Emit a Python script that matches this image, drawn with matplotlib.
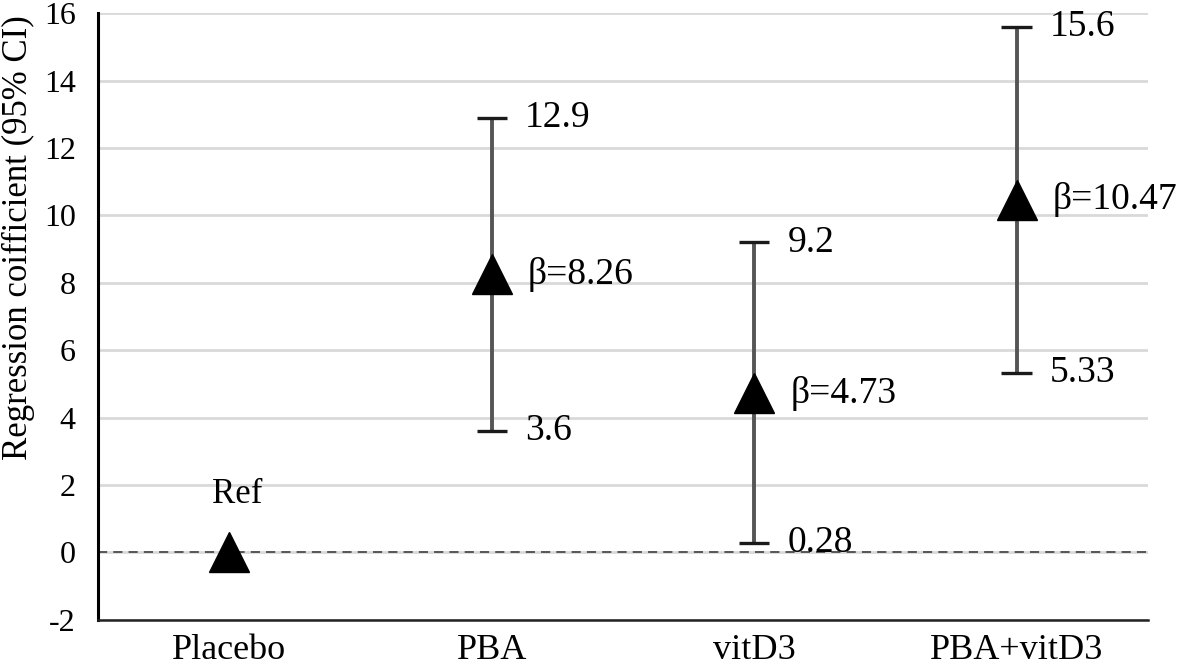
import numpy as np
import matplotlib.pyplot as plt

plt.rcParams['font.family'] = ['Liberation Serif', 'DejaVu Serif']
plt.rcParams['axes.unicode_minus'] = False

groups = ['Placebo', 'PBA', 'vitD3', 'PBA+vitD3']
beta = [0, 8.26, 4.73, 10.47]
ci_low = [np.nan, 3.6, 0.28, 5.33]
ci_high = [np.nan, 12.9, 9.2, 15.6]
low_labels = ['', '3.6', '0.28', '5.33']
high_labels = ['', '12.9', '9.2', '15.6']
beta_labels = ['Ref', 'β=8.26', 'β=4.73', 'β=10.47']

x = np.arange(len(groups))
b = np.array(beta)
lo = np.array(ci_low)
hi = np.array(ci_high)

fig = plt.figure(figsize=(11.81, 6.65), dpi=100)
ax = fig.add_axes([0.083, 0.068, 0.889, 0.912])

ax.set_ylim(-2, 16)
ax.set_xlim(-0.5, 3.5)
ax.set_yticks(range(-2, 17, 2))
ax.yaxis.grid(True, color='#d9d9d9', linewidth=2)
ax.set_axisbelow(True)
ax.axhline(0, color='#333333', linestyle=(0, (6, 4)), linewidth=1.1, zorder=1.5)

# error bars: thick gray stem, black caps
has_ci = ~np.isnan(lo)
ax.vlines(x[has_ci], lo[has_ci], hi[has_ci], color='#555555', linewidth=2.8, zorder=2)
ax.hlines(np.concatenate([lo[has_ci], hi[has_ci]]),
          np.concatenate([x[has_ci], x[has_ci]]) - 0.058,
          np.concatenate([x[has_ci], x[has_ci]]) + 0.058,
          color='#1a1a1a', linewidth=2.4, zorder=3)

ax.plot(x, b, linestyle='none', marker='^', markersize=29, color='black', zorder=4)

for i in range(len(groups)):
    if has_ci[i]:
        ax.annotate(high_labels[i], (x[i], hi[i]), xytext=(24, 0), textcoords='offset points',
                    fontsize=27, va='center', ha='left')
        ax.annotate(low_labels[i], (x[i], lo[i]), xytext=(24, 0), textcoords='offset points',
                    fontsize=27, va='center', ha='left')
        ax.annotate(beta_labels[i], (x[i], b[i]), xytext=(26, 0), textcoords='offset points',
                    fontsize=27, va='center', ha='left')
    else:
        ax.annotate(beta_labels[i], (x[i], b[i]), xytext=(6, 30), textcoords='offset points',
                    fontsize=25, va='bottom', ha='center')

ax.set_xticks(x)
ax.set_xticklabels(groups, fontsize=26)
ax.tick_params(axis='y', labelsize=23, length=0, pad=16)
ax.tick_params(axis='x', length=0, pad=10)
ax.set_ylabel('Regression coifficient (95% CI)', fontsize=25)
ax.yaxis.set_label_coords(-0.060, 0.63)

for s in ['top', 'right']:
    ax.spines[s].set_visible(False)
ax.spines['left'].set_linewidth(2.2)
ax.spines['bottom'].set_linewidth(1.8)
ax.spines['bottom'].set_color('#222222')

fig.savefig('out.png', dpi=100)
